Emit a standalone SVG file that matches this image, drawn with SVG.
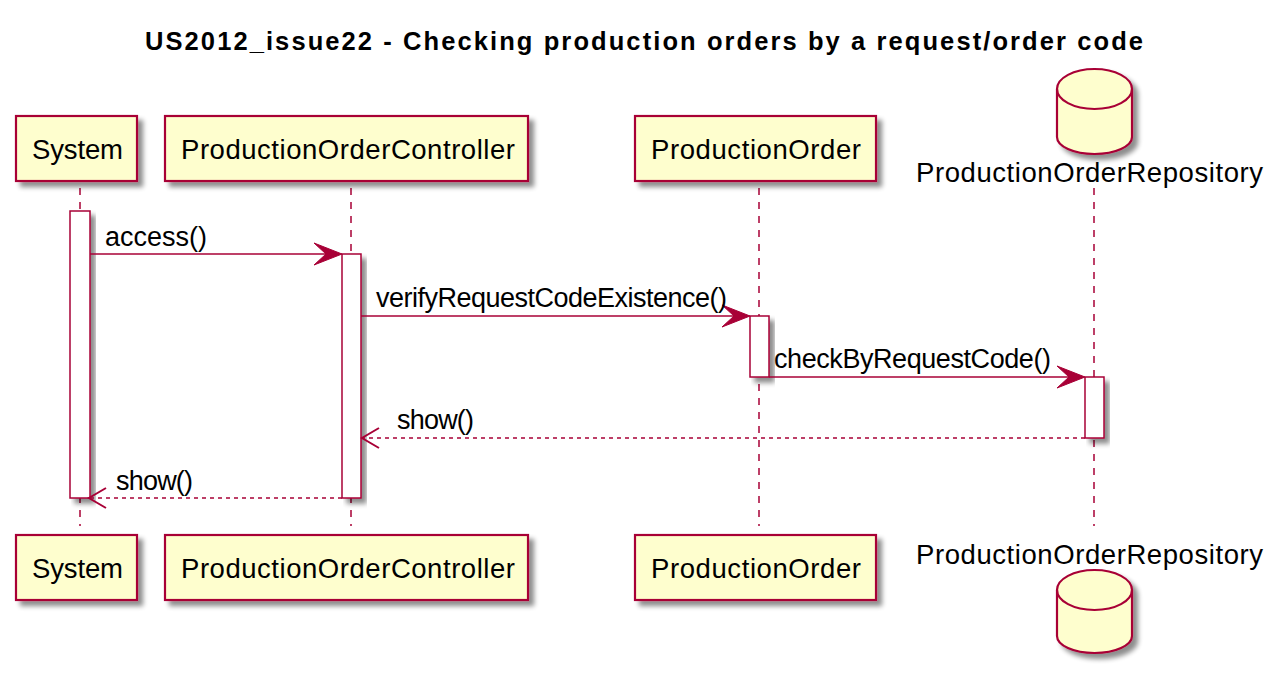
<svg xmlns="http://www.w3.org/2000/svg" width="1286" height="677" viewBox="0 0 1286 677">
<defs>
<filter id="sh" x="-20%" y="-20%" width="150%" height="150%">
<feGaussianBlur in="SourceAlpha" stdDeviation="2.5"/>
<feOffset dx="5" dy="5" result="b"/>
<feComponentTransfer><feFuncA type="linear" slope="0.45"/></feComponentTransfer>
<feMerge><feMergeNode/><feMergeNode in="SourceGraphic"/></feMerge>
</filter>
</defs>
<style>
.box{fill:#FEFECE;stroke:#A80036;stroke-width:2.2}
.act{fill:#FFFFFF;stroke:#A80036;stroke-width:1.5}
.life{stroke:#A80036;stroke-width:1.5;stroke-dasharray:7,7;fill:none}
.msg{stroke:#A80036;stroke-width:1.5;fill:none}
.ret{stroke:#A80036;stroke-width:1.5;stroke-dasharray:4,4;fill:none}
.head{fill:#A80036;stroke:#A80036;stroke-width:1}
.open{stroke:#A80036;stroke-width:2;fill:none}
.pt{font-family:"Liberation Sans",Arial,sans-serif;font-size:27.5px;fill:#000}
.mt{font-family:"Liberation Sans",Arial,sans-serif;font-size:27px;fill:#000}
.title{font-family:"Liberation Sans",Arial,sans-serif;font-size:25.5px;font-weight:bold;fill:#000}
</style>
<rect width="1286" height="677" fill="#FFFFFF"/>
<text class="title" x="145" y="50" textLength="998">US2012_issue22 - Checking production orders by a request/order code</text>

<g id="lifelines">
<line class="life" x1="80" y1="188" x2="80" y2="526"/>
<line class="life" x1="351" y1="188" x2="351" y2="526"/>
<line class="life" x1="759" y1="188" x2="759" y2="526"/>
<line class="life" x1="1094" y1="188" x2="1094" y2="526"/>
</g>

<g id="System">
<rect class="box" x="16" y="116" width="121" height="65" filter="url(#sh)"/>
<text class="pt" x="32" y="159" textLength="91">System</text>
<rect class="box" x="16" y="535" width="121" height="65" filter="url(#sh)"/>
<text class="pt" x="32" y="578" textLength="91">System</text>
<rect class="act" x="70" y="211" width="20" height="287" filter="url(#sh)"/>
</g>

<g id="ProductionOrderController">
<rect class="box" x="165" y="116" width="363" height="65" filter="url(#sh)"/>
<text class="pt" x="181" y="159" textLength="334">ProductionOrderController</text>
<rect class="box" x="165" y="535" width="363" height="65" filter="url(#sh)"/>
<text class="pt" x="181" y="578" textLength="334">ProductionOrderController</text>
<rect class="act" x="342" y="254" width="19" height="244" filter="url(#sh)"/>
</g>

<g id="ProductionOrder">
<rect class="box" x="635" y="116" width="241" height="65" filter="url(#sh)"/>
<text class="pt" x="651" y="159" textLength="210">ProductionOrder</text>
<rect class="box" x="635" y="535" width="241" height="65" filter="url(#sh)"/>
<text class="pt" x="651" y="578" textLength="210">ProductionOrder</text>
<rect class="act" x="750" y="316" width="19" height="61" filter="url(#sh)"/>
</g>

<g id="ProductionOrderRepository">
<path class="box" filter="url(#sh)" d="M1057,89 A37.5,20 0 0 1 1132,89 L1132,137 A37.5,17 0 0 1 1057,137 Z"/>
<path class="box" style="fill:none" d="M1057,89 A37.5,20 0 0 0 1132,89"/>
<text class="pt" x="916" y="182" textLength="347">ProductionOrderRepository</text>
<text class="pt" x="916" y="564" textLength="347">ProductionOrderRepository</text>
<path class="box" filter="url(#sh)" d="M1057,590 A37.5,20 0 0 1 1132,590 L1132,636 A37.5,17 0 0 1 1057,636 Z"/>
<path class="box" style="fill:none" d="M1057,590 A37.5,20 0 0 0 1132,590"/>
<rect class="act" x="1085" y="377" width="19" height="61" filter="url(#sh)"/>
</g>

<g id="connectors">
<line class="msg" x1="90" y1="254" x2="330" y2="254"/>
<polygon class="head" points="342,254 314,243 326,254 314,265"/>
<text class="mt" x="105" y="246" textLength="102">access()</text>

<line class="msg" x1="361" y1="316" x2="738" y2="316"/>
<polygon class="head" points="750,316 722,305 734,316 722,327"/>
<text class="mt" x="376" y="307" textLength="351">verifyRequestCodeExistence()</text>

<line class="msg" x1="769" y1="377" x2="1073" y2="377"/>
<polygon class="head" points="1085,377 1057,366 1069,377 1057,388"/>
<text class="mt" x="774" y="368" textLength="277">checkByRequestCode()</text>

<line class="ret" x1="1085" y1="438" x2="363" y2="438"/>
<polyline class="open" points="379,428 362,438 379,448"/>
<text class="mt" x="397" y="429" textLength="77">show()</text>

<line class="ret" x1="342" y1="498" x2="90" y2="498"/>
<polyline class="open" points="106,488 89,498 106,508"/>
<text class="mt" x="116" y="490" textLength="77">show()</text>
</g>
</svg>
